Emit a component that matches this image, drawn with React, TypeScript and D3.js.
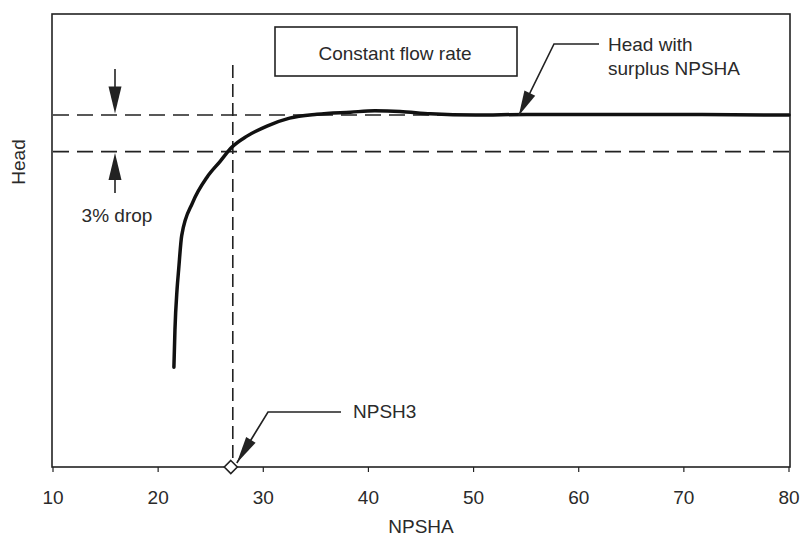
import React from 'react';
import * as d3 from 'd3';

// NPSHA (x) vs head (arbitrary units, 100 = head with surplus NPSHA)
const npsha = [21.5, 21.6, 21.8, 21.95, 22.24, 23.3, 24.65, 25.9, 27.0, 28.45, 30.35, 32.5, 35.1, 38.3, 40.6, 43.0, 45.9, 50.2, 55, 62, 70, 80];
const head = [79.3, 82.4, 85.7, 87.3, 90.1, 92.85, 94.9, 96.2, 97.35, 98.27, 99.1, 99.75, 100.07, 100.24, 100.35, 100.3, 100.1, 100.0, 100.05, 100.05, 100.05, 100.0];
const xTicks = [10, 20, 30, 40, 50, 60, 70, 80];
const headFull = 100;
const headDrop = 97;
const npsh3 = 27.1;

const W = 800;
const H = 539;
const left = 53, right = 789, top = 14, bottom = 467;
const ink = '#222';
const txt = '#2a2a2a';
const font = '"Liberation Sans", Arial, sans-serif';

// triangle arrowhead pointing at (tx,ty) coming from (fx,fy)
function arrowHead(tx: number, ty: number, fx: number, fy: number, len: number, half: number) {
  const dx = tx - fx, dy = ty - fy;
  const d = Math.sqrt(dx * dx + dy * dy);
  const ux = dx / d, uy = dy / d;
  const bx = tx - ux * len, by = ty - uy * len;
  return `M${tx},${ty}L${bx - uy * half},${by + ux * half}L${bx + uy * half},${by - ux * half}Z`;
}

export default function App() {
  const x = d3.scaleLinear().domain([10, 80]).range([left, right]);
  const y = d3.scaleLinear().domain([71.1, 108.3]).range([bottom, top]);

  const line = d3.line<number>()
    .x((d, i) => x(npsha[i]))
    .y(d => y(d))
    .curve(d3.curveMonotoneX);

  const xv = x(npsh3);
  const yFull = y(headFull);
  const yDrop = y(headDrop);

  // leader for "Head with surplus NPSHA"
  const tipA: [number, number] = [x(54.3), yFull + 0.5];
  const elbowA: [number, number] = [554, 44];
  // leader for NPSH3
  const tipB: [number, number] = [xv + 4, bottom - 4];
  const elbowB: [number, number] = [268, 412];

  return (
    <svg width={W} height={H} style={{ position: 'absolute', left: 0, top: 0, background: '#fff' }}>
      {/* frame */}
      <rect x={left - 1} y={top} width={right - left + 2} height={bottom - top} fill="none" stroke={ink} strokeWidth={1.6} />

      {/* x ticks */}
      {xTicks.map(t => (
        <g key={t}>
          <line x1={x(t)} x2={x(t)} y1={bottom} y2={bottom + 5} stroke={ink} strokeWidth={1.2} />
          <text x={x(t)} y={504} textAnchor="middle" fontFamily={font} fontSize={19} fill={txt}>{t}</text>
        </g>
      ))}
      <text x={421} y={533} textAnchor="middle" fontFamily={font} fontSize={19} fill={txt}>NPSHA</text>
      <text transform="translate(25,162) rotate(-90)" textAnchor="middle" fontFamily={font} fontSize={19} fill={txt}>Head</text>

      {/* reference dashed lines */}
      <line x1={left} x2={right} y1={yFull} y2={yFull} stroke={ink} strokeWidth={1.6} strokeDasharray="16,8" />
      <line x1={left} x2={right} y1={yDrop} y2={yDrop} stroke={ink} strokeWidth={1.6} strokeDasharray="16,8" />
      <line x1={xv} x2={xv} y1={65} y2={bottom} stroke={ink} strokeWidth={1.6} strokeDasharray="13,6" />

      {/* head curve */}
      <path d={line(head) || ''} fill="none" stroke="#111" strokeWidth={3.5} strokeLinecap="round" strokeLinejoin="round" />

      {/* 3% drop arrows */}
      <line x1={115} x2={115} y1={69} y2={yFull - 20} stroke={ink} strokeWidth={1.6} />
      <path d={arrowHead(115, yFull - 1.5, 115, 69, 27, 6.5)} fill={ink} />
      <line x1={115} x2={115} y1={193} y2={yDrop + 20} stroke={ink} strokeWidth={1.6} />
      <path d={arrowHead(115, yDrop + 1.5, 115, 193, 27, 6.5)} fill={ink} />
      <text x={117} y={222} textAnchor="middle" fontFamily={font} fontSize={19} fill={txt}>3% drop</text>

      {/* constant flow rate box */}
      <rect x={275} y={27} width={242} height={49} fill="#fff" stroke={ink} strokeWidth={1.6} />
      <text x={395} y={60} textAnchor="middle" fontFamily={font} fontSize={19} fill={txt}>Constant flow rate</text>

      {/* head with surplus NPSHA */}
      <polyline points={`599,44 ${elbowA[0]},${elbowA[1]} ${tipA[0]},${tipA[1]}`} fill="none" stroke={ink} strokeWidth={1.6} />
      <path d={arrowHead(tipA[0], tipA[1], elbowA[0], elbowA[1], 25, 6)} fill={ink} />
      <text x={608} y={51} fontFamily={font} fontSize={19} fill={txt}>Head with</text>
      <text x={608} y={75} fontFamily={font} fontSize={19} fill={txt}>surplus NPSHA</text>

      {/* NPSH3 */}
      <polyline points={`341,412 ${elbowB[0]},${elbowB[1]} ${tipB[0]},${tipB[1]}`} fill="none" stroke={ink} strokeWidth={1.6} />
      <path d={arrowHead(tipB[0], tipB[1], elbowB[0], elbowB[1], 27, 5.5)} fill={ink} />
      <path d={`M${xv - 2},${bottom - 6.5}L${xv + 4.5},${bottom}L${xv - 2},${bottom + 6.5}L${xv - 8.5},${bottom}Z`} fill="#fff" stroke={ink} strokeWidth={1.6} />
      <text x={353} y={418} fontFamily={font} fontSize={19} fill={txt}>NPSH3</text>
    </svg>
  );
}
